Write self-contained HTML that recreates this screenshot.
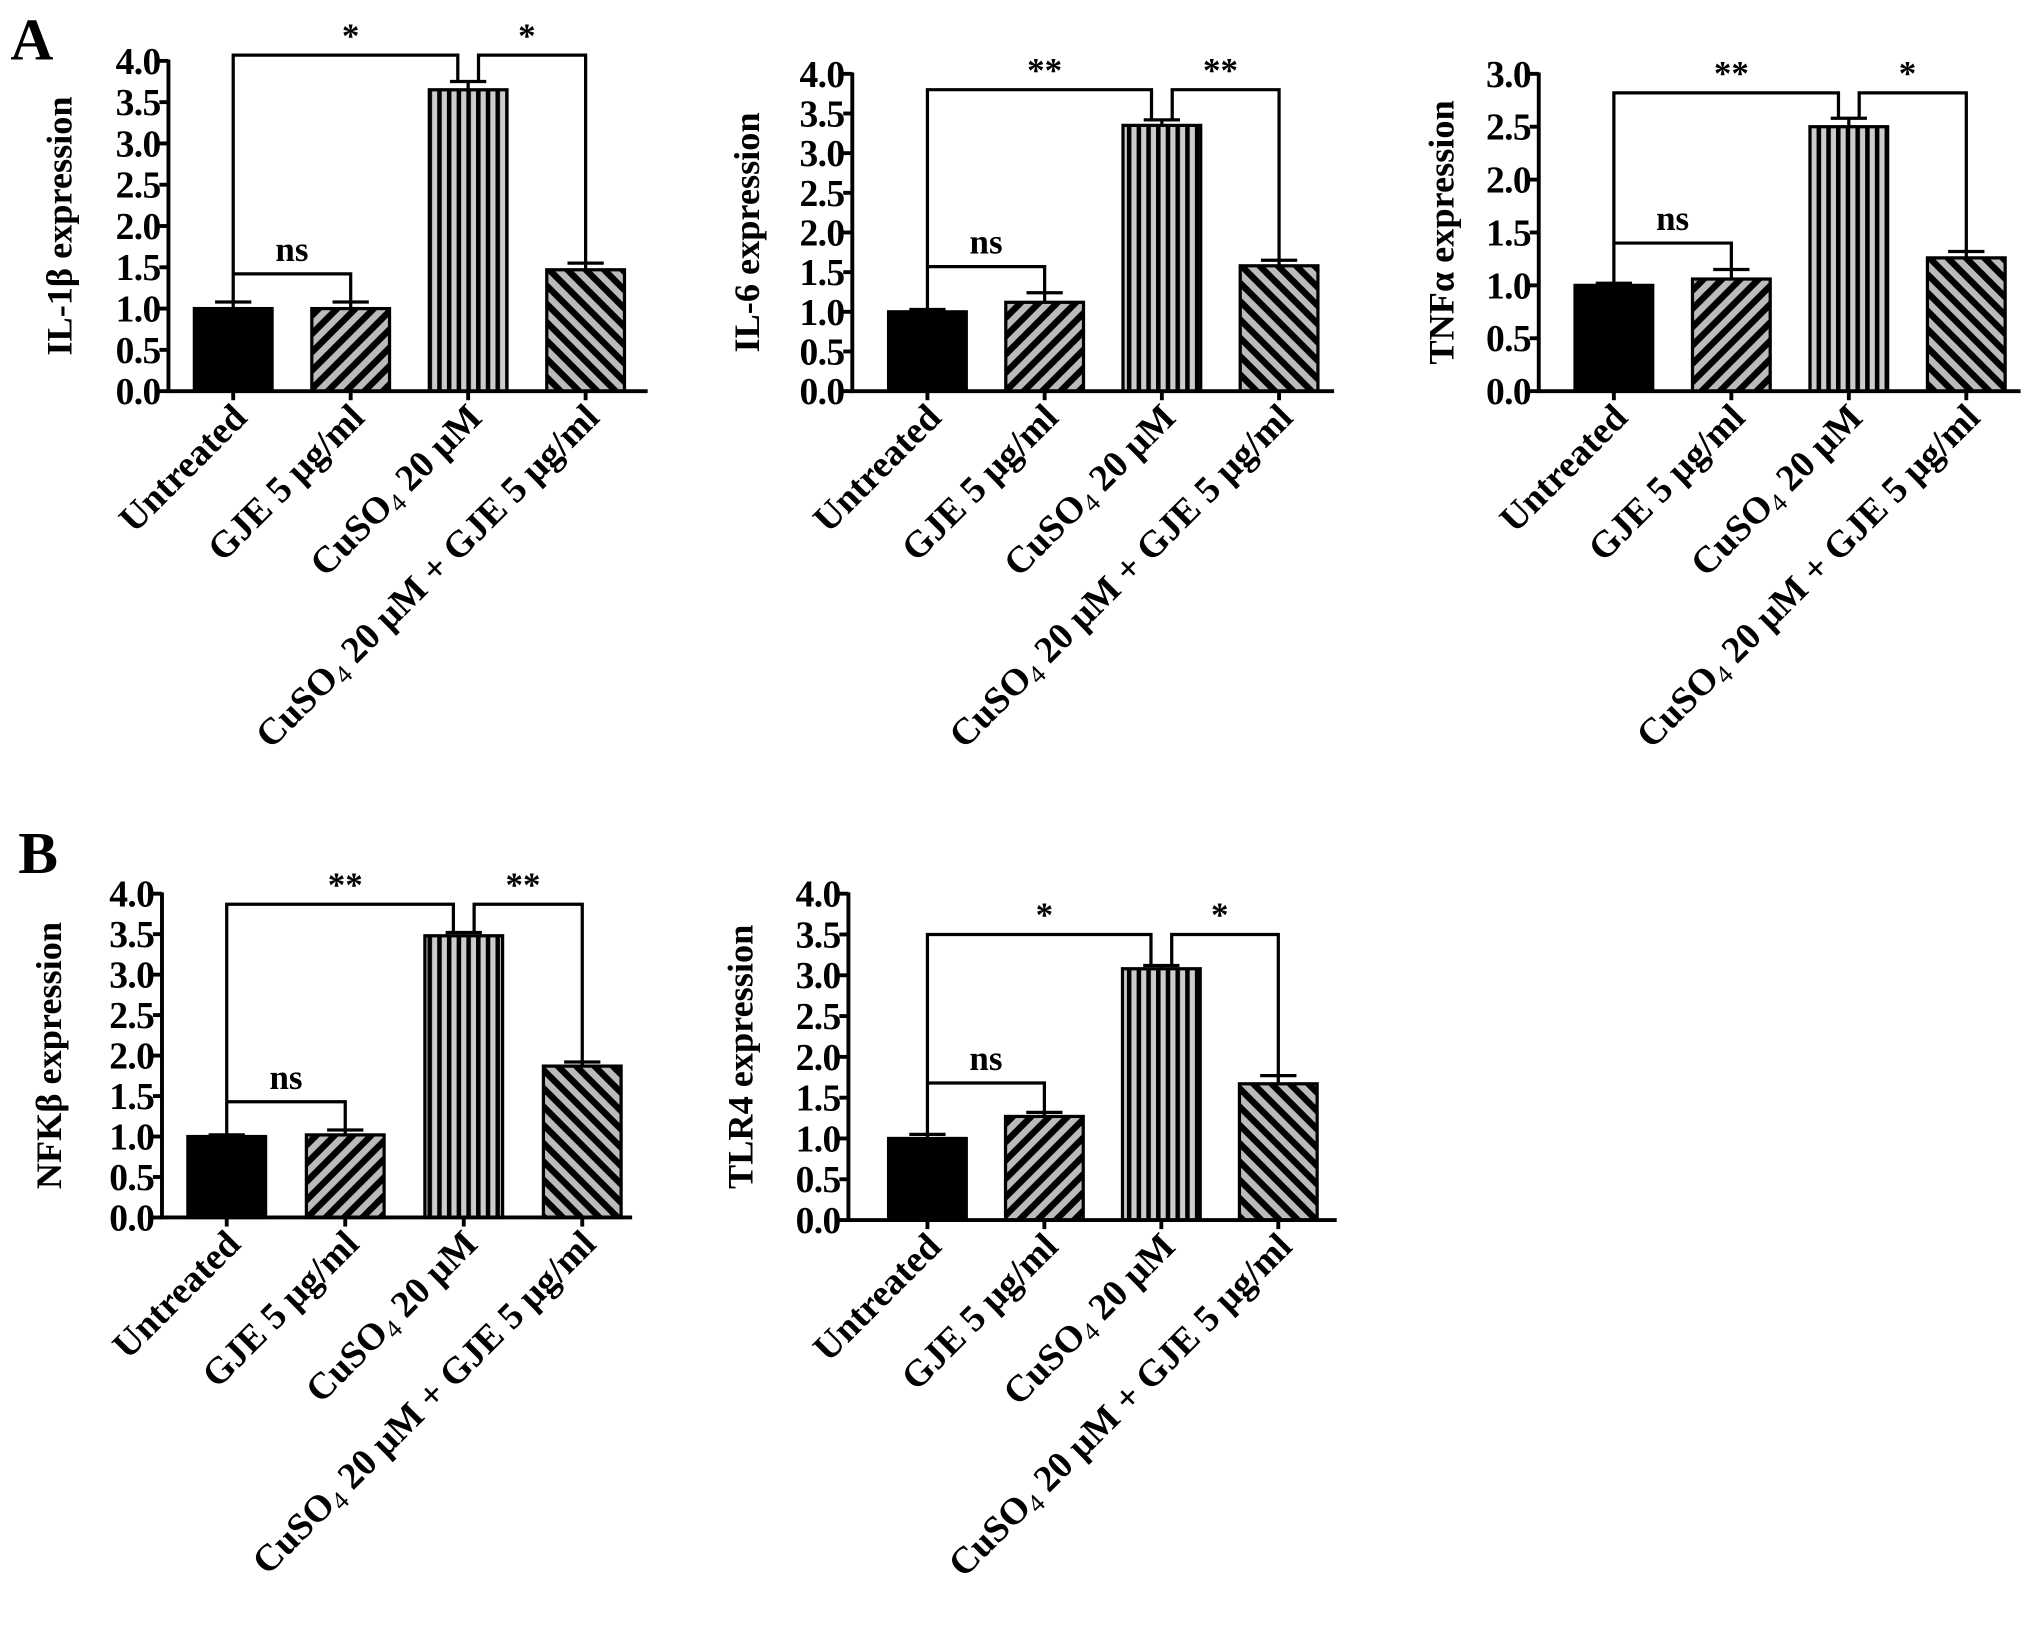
<!DOCTYPE html>
<html><head><meta charset="utf-8"><style>
html,body{margin:0;padding:0;background:#fff}
svg text{font-family:"Liberation Serif",serif;font-weight:bold;fill:#000}
</style></head><body>
<svg id="fig" width="2031" height="1641" viewBox="0 0 1568 1267" xmlns="http://www.w3.org/2000/svg">
<defs>
<pattern id="pUp" patternUnits="userSpaceOnUse" width="10" height="10" patternTransform="rotate(45)">
<rect width="10" height="10" fill="#bbb"/><rect width="5" height="10" fill="#000"/></pattern>
<pattern id="pVert" patternUnits="userSpaceOnUse" width="7.5" height="10">
<rect width="7.5" height="10" fill="#ccc"/><rect width="3.5" height="10" fill="#000"/></pattern>
<pattern id="pDown" patternUnits="userSpaceOnUse" width="10" height="10" patternTransform="rotate(-45)">
<rect width="10" height="10" fill="#bbb"/><rect width="5" height="10" fill="#000"/></pattern>
</defs>
<text x="8" y="46" font-size="46">A</text>
<text x="14" y="674" font-size="46">B</text>
</svg>
<script>
const categories = ["Untreated","GJE 5 μg/ml","CuSO4 20 μM","CuSO4 20 μM + GJE 5 μg/ml"];
const il1bValues = [1.0, 1.0, 3.65, 1.47];
const il1bErrors = [0.08, 0.08, 0.10, 0.08];
const il6Values = [1.0, 1.12, 3.35, 1.58];
const il6Errors = [0.03, 0.12, 0.07, 0.07];
const tnfValues = [1.0, 1.06, 2.5, 1.26];
const tnfErrors = [0.02, 0.09, 0.08, 0.06];
const nfkbValues = [1.0, 1.02, 3.48, 1.87];
const nfkbErrors = [0.02, 0.06, 0.04, 0.05];
const tlr4Values = [1.0, 1.27, 3.08, 1.67];
const tlr4Errors = [0.05, 0.05, 0.04, 0.10];
const ticks4 = ["0.0","0.5","1.0","1.5","2.0","2.5","3.0","3.5","4.0"];
const ticks3 = ["0.0","0.5","1.0","1.5","2.0","2.5","3.0"];
const sigIl1b = ["*","*","ns"], sigIl6 = ["**","**","ns"], sigTnf = ["**","*","ns"], sigNfkb = ["**","**","ns"], sigTlr4 = ["*","*","ns"];
const bracketIl1b = [4.07, 1.42], bracketIl6 = [3.8, 1.57], bracketTnf = [2.82, 1.4], bracketNfkb = [3.87, 1.43], bracketTlr4 = [3.5, 1.68];

const NS = "http://www.w3.org/2000/svg";
const svg = document.getElementById("fig");
function mk(tag, attrs, parent){const e=document.createElementNS(NS,tag);for(const k in attrs)e.setAttribute(k,attrs[k]);(parent||svg).appendChild(e);return e;}
const fills = ["#000","url(#pUp)","url(#pVert)","url(#pDown)"];

function chart(cfg){
  const g = mk("g",{});
  
  
  const ymax = parseFloat(cfg.ticks[cfg.ticks.length-1]);
  const y = v => cfg.y0 - (v/ymax)*(cfg.y0-cfg.yTop);
  const x = i => cfg.x0 + cfg.first + i*cfg.step;
  const bw = 60;
  cfg.values.forEach((v,i)=>{
    const r = mk("rect",{x:x(i)-bw/2,y:y(v),width:bw,height:cfg.y0-y(v),fill:fills[i],stroke:"#000","stroke-width":2.5},g);
    
    
    const top = y(v+cfg.errors[i]);
    const e = mk("path",{d:`M${x(i)},${y(v)}V${top}M${x(i)-14},${top}H${x(i)+14}`,stroke:"#000","stroke-width":2.5,fill:"none"},g);
    
    
  });
  const ax = mk("path",{d:`M${cfg.x0},${cfg.yTop-1}V${cfg.y0}H${cfg.xEnd}`,stroke:"#000","stroke-width":3,fill:"none"},g);
  
  
  cfg.ticks.forEach(t=>{
    const yy = y(parseFloat(t));
    mk("line",{x1:cfg.x0-7,x2:cfg.x0,y1:yy,y2:yy,stroke:"#000","stroke-width":3},g);
    const tx = mk("text",{x:cfg.x0-6,y:yy+10,"font-size":29,"text-anchor":"end","letter-spacing":-0.5},g);
    tx.textContent = t;
    
    
  });
  categories.forEach((c,i)=>{
    mk("line",{x1:x(i),x2:x(i),y1:cfg.y0,y2:cfg.y0+7,stroke:"#000","stroke-width":3},g);
    const t = mk("text",{"font-size":29,"text-anchor":"end",transform:`translate(${x(i)+12},${cfg.y0+22}) rotate(-45)`},g);
    
    
    const m = c.match(/^CuSO4(.*)$/);
    if(m){
      const a=mk("tspan",{},t);a.textContent="CuSO";
      const b=mk("tspan",{dy:5,"font-size":20,"font-weight":"normal"},t);b.textContent="4";
      const d=mk("tspan",{dy:-5},t);d.textContent=m[1];
    } else t.textContent=c;
  });
  const yt = mk("text",{"font-size":28,"text-anchor":"middle",transform:`translate(${cfg.x0-cfg.titleOff},${(cfg.y0+cfg.yTop)/2}) rotate(-90)`},g);
  yt.textContent = cfg.title;
  
  
  const vt = cfg.values.map((v,i)=>y(v+cfg.errors[i]));
  const by = y(cfg.bracket[0]), bn = y(cfg.bracket[1]);
  const b = mk("path",{d:`M${x(0)},${vt[0]}V${by}H${x(2)-8}V${vt[2]}M${x(2)+8},${vt[2]}V${by}H${x(3)}V${vt[3]}M${x(0)},${bn}H${x(1)}V${vt[1]}`,stroke:"#000","stroke-width":2.5,fill:"none"},g);
  
  
  [[ (x(0)+x(2))/2, by-6, cfg.sig[0]],[(x(2)+x(3))/2, by-6, cfg.sig[1]],[(x(0)+x(1))/2, bn-10, cfg.sig[2]]].forEach(s=>{
    const t = mk("text",{x:s[0],y:s[1],"font-size":27,"text-anchor":"middle"},g);
    t.textContent = s[2];
    
    
  });
}
chart({name:"chart-il1b",title:"IL-1β expression",values:il1bValues,errors:il1bErrors,ticks:ticks4,sig:sigIl1b,bracket:bracketIl1b,x0:130,xEnd:500,y0:302,yTop:47,first:50,step:90.7,titleOff:75});
chart({name:"chart-il6",title:"IL-6 expression",values:il6Values,errors:il6Errors,ticks:ticks4,sig:sigIl6,bracket:bracketIl6,x0:658,xEnd:1030,y0:302,yTop:57,first:58,step:90.5,titleOff:72});
chart({name:"chart-tnfa",title:"TNFα expression",values:tnfValues,errors:tnfErrors,ticks:ticks3,sig:sigTnf,bracket:bracketTnf,x0:1188,xEnd:1560,y0:302,yTop:57,first:58,step:90.7,titleOff:66});
chart({name:"chart-nfkb",title:"NFKβ expression",values:nfkbValues,errors:nfkbErrors,ticks:ticks4,sig:sigNfkb,bracket:bracketNfkb,x0:125,xEnd:488,y0:940,yTop:690,first:50,step:91.5,titleOff:78});
chart({name:"chart-tlr4",title:"TLR4 expression",values:tlr4Values,errors:tlr4Errors,ticks:ticks4,sig:sigTlr4,bracket:bracketTlr4,x0:655,xEnd:1032,y0:942,yTop:690,first:61,step:90.3,titleOff:74});
</script>
</body></html>
